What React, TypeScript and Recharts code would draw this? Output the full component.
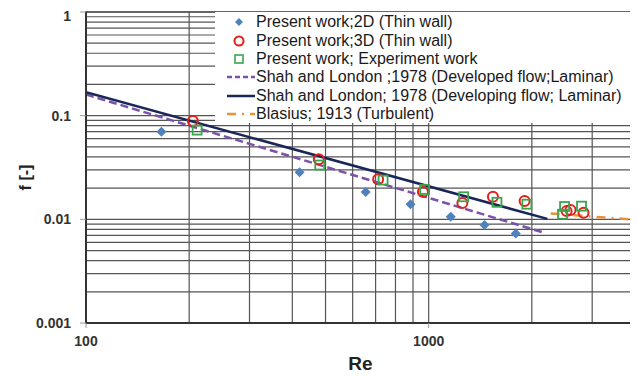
import {
  ComposedChart,
  XAxis,
  YAxis,
  Line,
  Scatter,
  ReferenceLine,
  ReferenceArea,
  Legend,
  Label,
} from "recharts";

// axis ticks + grid
const xTicks = [100, 1000];
const yTicks = [0.001, 0.01, 0.1, 1];
const xGrid = [200, 300, 400, 500, 600, 700, 800, 900, 1000, 2000, 3000];
const yGrid = [
  0.002, 0.003, 0.004, 0.005, 0.006, 0.007, 0.008, 0.009, 0.01,
  0.02, 0.03, 0.04, 0.05, 0.06, 0.07, 0.08, 0.09, 0.1,
  0.2, 0.3, 0.4, 0.5, 0.6, 0.7, 0.8, 0.9,
];

// Present work 2D (thin wall)
const sim2dRe = [166, 420, 655, 885, 1160, 1455, 1795];
const sim2dF = [0.07, 0.0284, 0.0184, 0.014, 0.0106, 0.0088, 0.0073];

// Present work 3D (thin wall)
const sim3dRe = [205, 478, 712, 962, 1254, 1540, 1905, 2526, 2594, 2831];
const sim3dF = [0.089, 0.038, 0.0244, 0.0184, 0.0144, 0.0165, 0.015, 0.012, 0.0123, 0.0116];

// Experiment
const expRe = [211, 481, 736, 973, 1265, 1582, 1934, 2458, 2492, 2793];
const expF = [0.0726, 0.0334, 0.0239, 0.0194, 0.0165, 0.0146, 0.014, 0.0112, 0.0133, 0.0134];

// correlations
const developedRe = [100, 2180];
const developedF = [0.16, 0.0074];
const developingRe = [100, 2220];
const developingF = [0.168, 0.0101];
const blasiusRe = [2270, 4000];
const blasiusF = [0.0114, 0.0099];

const seriesNames = [
  "Present work;2D (Thin wall)",
  "Present work;3D (Thin wall)",
  "Present work; Experiment work",
  "Shah and London ;1978 (Developed flow;Laminar)",
  "Shah and London; 1978 (Developing flow; Laminar)",
  "Blasius; 1913 (Turbulent)",
];

const zip = (re: number[], f: number[]) => re.map((r, i) => ({ re: r, f: f[i] }));

const BLUE = "#4f81bd";
const RED = "#e0201b";
const GREEN = "#3aa64c";
const PURPLE = "#7b52a8";
const NAVY = "#1b2658";
const ORANGE = "#e8923a";
const GRID = "#555";
const FONT = "'Liberation Sans', Arial, sans-serif";

const Diamond = (props: any) => {
  const { cx, cy } = props;
  const s = 5;
  return (
    <polygon
      points={`${cx},${cy - s} ${cx + s},${cy} ${cx},${cy + s} ${cx - s},${cy}`}
      fill={BLUE}
    />
  );
};

const Circle = (props: any) => (
  <circle cx={props.cx} cy={props.cy} r={5} fill="none" stroke={RED} strokeWidth={2} />
);

const Square = (props: any) => (
  <rect x={props.cx - 4.5} y={props.cy - 4.5} width={9} height={9} fill="none" stroke={GREEN} strokeWidth={1.8} />
);

const legendIcon = (i: number) => {
  switch (i) {
    case 0:
      return <polygon points="12,3 16,7 12,11 8,7" fill={BLUE} />;
    case 1:
      return <circle cx={12} cy={7} r={4.5} fill="none" stroke={RED} strokeWidth={2} />;
    case 2:
      return <rect x={8} y={3} width={8} height={8} fill="none" stroke={GREEN} strokeWidth={1.6} />;
    case 3:
      return <line x1={0} y1={7} x2={28} y2={7} stroke={PURPLE} strokeWidth={2.5} strokeDasharray="5 3" />;
    case 4:
      return <line x1={0} y1={7} x2={28} y2={7} stroke={NAVY} strokeWidth={2.5} />;
    default:
      return <line x1={0} y1={7} x2={28} y2={7} stroke={ORANGE} strokeWidth={2.5} strokeDasharray="9 6 2 6" />;
  }
};

const LegendBox = () => (
  <div style={{ background: "#fff", width: "100%", height: "100%", paddingTop: 1, paddingLeft: 12, boxSizing: "border-box" }}>
    {seriesNames.map((name, i) => (
      <div key={name} style={{ display: "flex", alignItems: "center", height: 18.4 }}>
        <svg width={28} height={14} style={{ flex: "none" }}>
          {legendIcon(i)}
        </svg>
        <span style={{ marginLeft: 1, fontFamily: FONT, fontSize: 16, color: "#1a1a1a", whiteSpace: "nowrap" }}>
          {name}
        </span>
      </div>
    ))}
  </div>
);

const tickStyle = { fill: "#333", fontSize: 14, fontWeight: 700, fontFamily: FONT };

export default function App() {
  return (
    <ComposedChart width={630} height={368} margin={{ top: 4, right: 3, bottom: 0, left: 0 }}>
      {xGrid.map((v) => (
        <ReferenceLine key={"x" + v} x={v} stroke={GRID} strokeWidth={1.2} />
      ))}
      {yGrid.map((v) => (
        <ReferenceLine key={"y" + v} y={v} stroke={GRID} strokeWidth={1.2} />
      ))}
      <ReferenceArea x1={100} x2={4000} y1={0.001} y2={1} fill="none" stroke="#333" strokeWidth={1.5} />

      <XAxis
        dataKey="re"
        type="number"
        scale="log"
        domain={[100, 4000]}
        ticks={xTicks}
        allowDataOverflow
        height={53}
        tickSize={5}
        tickMargin={8}
        tick={tickStyle}
        axisLine={{ stroke: "#333", strokeWidth: 2 }}
        tickLine={{ stroke: "#999" }}
      >
        <Label value="Re" position="insideBottom" offset={6} style={{ fontSize: 19, fontWeight: 700, fill: "#222", fontFamily: FONT }} />
      </XAxis>
      <YAxis
        dataKey="f"
        type="number"
        scale="log"
        domain={[0.001, 1]}
        ticks={yTicks}
        allowDataOverflow
        width={78}
        tickSize={6}
        tickMargin={9}
        tick={tickStyle}
        axisLine={{ stroke: "#333", strokeWidth: 2 }}
        tickLine={{ stroke: "#999" }}
      >
        <Label value="f [-]" angle={-90} position="center" dx={-22} dy={10} style={{ fontSize: 16, fontWeight: 700, fill: "#222", fontFamily: FONT }} />
      </YAxis>

      <Legend
        layout="horizontal"
        verticalAlign="middle"
        align="center"
        content={() => <LegendBox />}
        wrapperStyle={{ left: 207, top: 4, width: 420, height: 111 }}
      />

      <Line data={zip(developedRe, developedF)} dataKey="f" name={seriesNames[3]} stroke={PURPLE} strokeWidth={2.5} strokeDasharray="8 4" dot={false} isAnimationActive={false} />
      <Line data={zip(developingRe, developingF)} dataKey="f" name={seriesNames[4]} stroke={NAVY} strokeWidth={2.5} dot={false} isAnimationActive={false} />
      <Line data={zip(blasiusRe, blasiusF)} dataKey="f" name={seriesNames[5]} stroke={ORANGE} strokeWidth={2.5} strokeDasharray="9 6 2 6" dot={false} isAnimationActive={false} />

      <Scatter data={zip(sim2dRe, sim2dF)} dataKey="f" name={seriesNames[0]} shape={Diamond} isAnimationActive={false} />
      <Scatter data={zip(sim3dRe, sim3dF)} dataKey="f" name={seriesNames[1]} shape={Circle} isAnimationActive={false} />
      <Scatter data={zip(expRe, expF)} dataKey="f" name={seriesNames[2]} shape={Square} isAnimationActive={false} />
    </ComposedChart>
  );
}
